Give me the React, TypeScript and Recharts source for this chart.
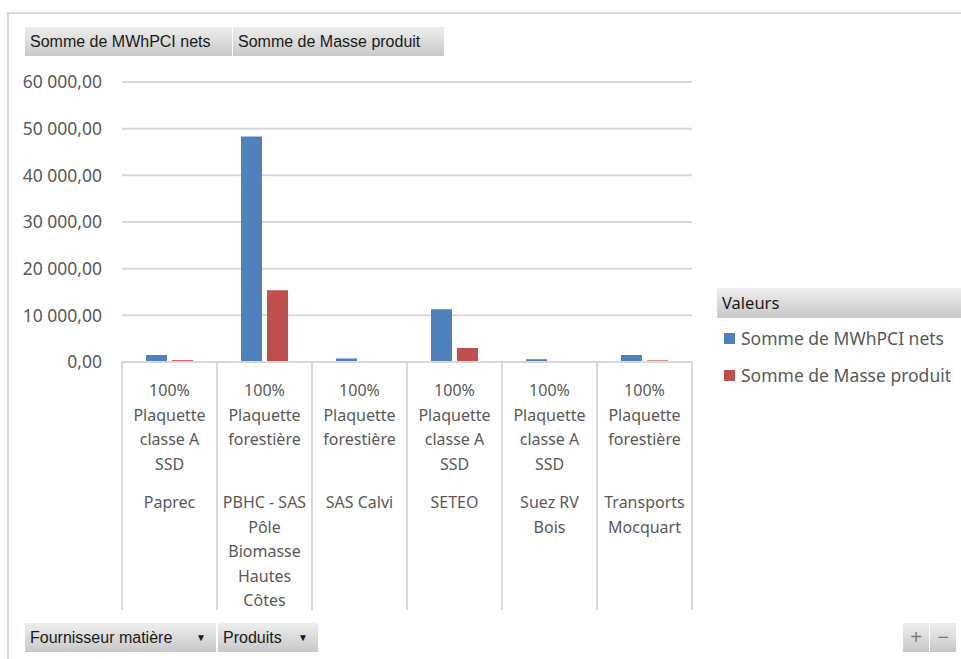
import React from 'react';
import { BarChart, Bar, XAxis, YAxis, CartesianGrid } from 'recharts';

// fournisseurs / produits (libellés de l'axe X, une ligne par entrée)
const productLines = [
  ['100%', 'Plaquette', 'classe A', 'SSD'],
  ['100%', 'Plaquette', 'forestière'],
  ['100%', 'Plaquette', 'forestière'],
  ['100%', 'Plaquette', 'classe A', 'SSD'],
  ['100%', 'Plaquette', 'classe A', 'SSD'],
  ['100%', 'Plaquette', 'forestière'],
];
const supplierLines = [
  ['Paprec'],
  ['PBHC - SAS', 'Pôle', 'Biomasse', 'Hautes', 'Côtes'],
  ['SAS Calvi'],
  ['SETEO'],
  ['Suez RV', 'Bois'],
  ['Transports', 'Mocquart'],
];
const mwhNets = [1500, 48300, 750, 11300, 600, 1500];
const masseProduit = [400, 15400, 0, 3000, 0, 350];
const yTicks = [0, 10000, 20000, 30000, 40000, 50000, 60000];

const series = [
  { key: 'mwh', name: 'Somme de MWhPCI nets', color: '#4f81bd' },
  { key: 'masse', name: 'Somme de Masse produit', color: '#c0504d' },
];

const data = supplierLines.map((s, i) => ({
  cat: s.join(' '),
  mwh: mwhNets[i],
  masse: masseProduit[i],
}));

const FONT = '"Noto Sans", "Open Sans", sans-serif';
const BTN_FONT = '"Liberation Sans", Arial, sans-serif';
const GRID = '#d9d9d9';
const TXT = '#595959';
const BAND = 95;

function fmt(v: number) {
  const [i, d] = v.toFixed(2).split('.');
  return i.replace(/\B(?=(\d{3})+(?!\d))/g, '\u00a0') + ',' + d;
}

function CategoryTick(props: any) {
  const { x, y, index } = props;
  const prod = productLines[index] || [];
  const sup = supplierLines[index] || [];
  const lh = 24.5;
  return (
    <g>
      <line x1={x - BAND / 2} x2={x - BAND / 2} y1={y} y2={y + 248} stroke={GRID} strokeWidth={2} />
      {index === productLines.length - 1 && (
        <line x1={x + BAND / 2} x2={x + BAND / 2} y1={y} y2={y + 248} stroke={GRID} strokeWidth={2} />
      )}
      <text textAnchor="middle" fill={TXT} fontSize={16} fontFamily={FONT}>
        {prod.map((l, k) => (
          <tspan key={k} x={x} y={y + 34 + k * lh}>{l}</tspan>
        ))}
      </text>
      <text textAnchor="middle" fill={TXT} fontSize={16} fontFamily={FONT}>
        {sup.map((l, k) => (
          <tspan key={k} x={x} y={y + 146 + k * lh}>{l}</tspan>
        ))}
      </text>
    </g>
  );
}

const btn: React.CSSProperties = {
  position: 'absolute',
  height: 29,
  background: 'linear-gradient(#eeeeee, #c8c8c8)',
  fontFamily: BTN_FONT,
  fontSize: 16,
  color: '#1a1a1a',
  lineHeight: '29px',
  paddingLeft: 5,
  boxSizing: 'border-box',
  whiteSpace: 'nowrap',
};

export default function App() {
  return (
    <div style={{ position: 'relative', width: 961, height: 659, background: '#fff', overflow: 'hidden' }}>
      <style>{'body{margin:0}'}</style>
      <div style={{ position: 'absolute', left: 7, top: 12, width: 960, height: 660, borderTop: `2px solid ${GRID}`, borderLeft: `2px solid ${GRID}` }} />
      <div style={{ position: 'absolute', left: 0, top: 0 }}>
        <BarChart
          width={961}
          height={659}
          data={data}
          margin={{ top: 82, right: 269, bottom: 47, left: 0 }}
          barGap={5}
          barSize={21}
        >
          <CartesianGrid vertical={false} stroke={GRID} strokeWidth={2} />
          <YAxis
            width={122}
            domain={[0, 60000]}
            ticks={yTicks}
            tickFormatter={fmt}
            axisLine={false}
            tickLine={false}
            tickSize={0}
            tickMargin={20}
            tick={{ fill: TXT, fontSize: 17.5, fontFamily: FONT }}
          />
          <XAxis
            dataKey="cat"
            height={250}
            axisLine={{ stroke: GRID, strokeWidth: 2 }}
            tickLine={false}
            tickSize={0}
            tickMargin={0}
            interval={0}
            tick={<CategoryTick />}
          />
          {series.map((s) => (
            <Bar key={s.key} dataKey={s.key} name={s.name} fill={s.color} isAnimationActive={false} />
          ))}
        </BarChart>
      </div>

      <div style={{ ...btn, left: 25, top: 27, width: 207 }}>Somme de MWhPCI nets</div>
      <div style={{ ...btn, left: 233, top: 27, width: 211 }}>Somme de Masse produit</div>

      <div style={{ ...btn, left: 717, top: 288, width: 244, height: 30, lineHeight: '30px', fontFamily: FONT, fontSize: 16.5 }}>Valeurs</div>
      {series.map((s, i) => (
        <div key={s.key} style={{ position: 'absolute', left: 724, top: 326 + i * 37, height: 24, display: 'flex', alignItems: 'center', fontFamily: FONT, fontSize: 17.5, color: TXT, whiteSpace: 'nowrap' }}>
          <span style={{ display: 'inline-block', width: 11, height: 11, background: s.color, marginRight: 6 }} />
          {s.name}
        </div>
      ))}

      <div style={{ ...btn, left: 25, top: 623, width: 191 }}>
        Fournisseur matière
        <span style={{ position: 'absolute', right: 10, fontSize: 10 }}>▼</span>
      </div>
      <div style={{ ...btn, left: 218, top: 623, width: 100 }}>
        Produits
        <span style={{ position: 'absolute', right: 10, fontSize: 10 }}>▼</span>
      </div>
      <div style={{ ...btn, left: 903, top: 623, width: 26, paddingLeft: 0, textAlign: 'center', color: '#7a7a7a', fontSize: 20 }}>+</div>
      <div style={{ ...btn, left: 930, top: 623, width: 26, paddingLeft: 0, textAlign: 'center', color: '#7a7a7a', fontSize: 20 }}>−</div>
    </div>
  );
}
